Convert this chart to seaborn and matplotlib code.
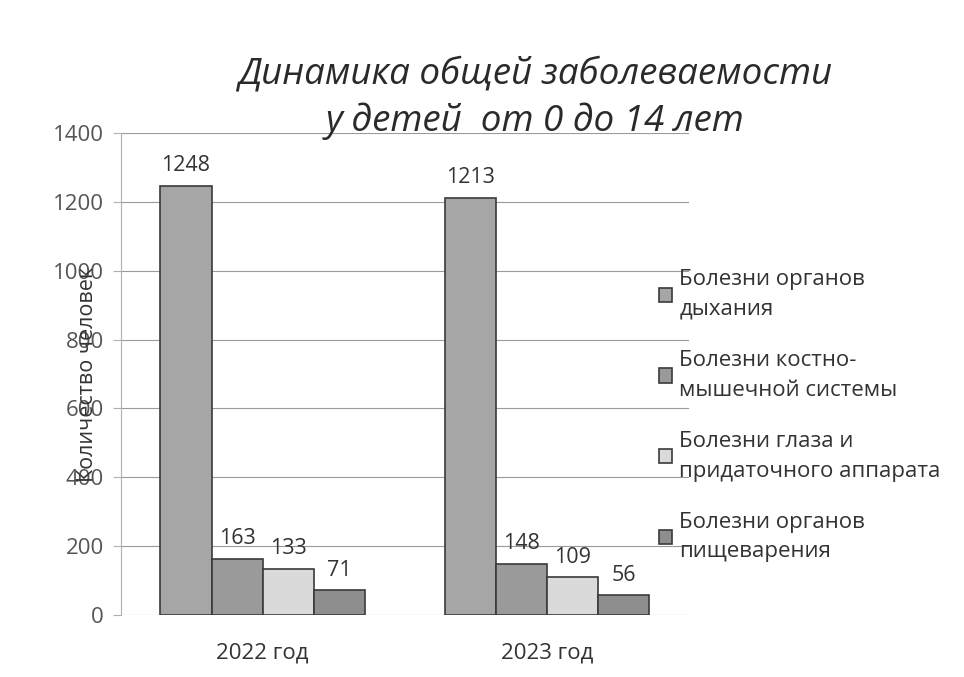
import matplotlib
matplotlib.use("Agg")
import matplotlib.pyplot as plt
import seaborn as sns
import pandas as pd

# data
years = ["2022 год", "2023 год"]
diseases = [
    "Болезни органов\nдыхания",
    "Болезни костно-\nмышечной системы",
    "Болезни глаза и\nпридаточного аппарата",
    "Болезни органов\nпищеварения",
]
values_2022 = [1248, 163, 133, 71]
values_2023 = [1213, 148, 109, 56]
yticks = [0, 200, 400, 600, 800, 1000, 1200, 1400]

df = pd.DataFrame({
    "year": [years[0]] * len(diseases) + [years[1]] * len(diseases),
    "disease": diseases + diseases,
    "count": values_2022 + values_2023,
})

sns.set_style("white")
plt.rcParams["font.family"] = ["Open Sans", "DejaVu Sans"]

colors = ["#a6a6a6", "#9a9a9a", "#dadada", "#8e8e8e"]

fig = plt.figure(figsize=(9.64, 6.77), dpi=100)
ax = fig.add_axes([0.125, 0.092, 0.59, 0.711])

sns.barplot(data=df, x="year", y="count", hue="disease", hue_order=diseases,
            palette=colors, width=0.72, edgecolor="#3a3a3a", linewidth=1.2,
            ax=ax, legend=True)

for c in ax.containers:
    ax.bar_label(c, fmt="%d", padding=7, fontsize=15.5, color="#333333")

ax.set_ylim(0, 1400)
ax.set_yticks(yticks)
ax.set_xlim(-0.5, 1.5)
ax.yaxis.grid(True, color="#9a9a9a", linewidth=0.8)
ax.set_axisbelow(True)
for s in ["top", "right", "bottom"]:
    ax.spines[s].set_visible(False)
ax.spines["left"].set_color("#b0b0b0")
ax.tick_params(axis="y", labelsize=16, labelcolor="#555555", length=6,
               color="#b0b0b0", direction="out", left=True, pad=6)
ax.tick_params(axis="x", labelsize=16, labelcolor="#333333", length=0, pad=20)
ax.set_xlabel("")
# in the original the axis title sits on top of the tick labels
ax.set_ylabel("Количество человек", fontsize=15.5, color="#333333")
ax.yaxis.set_label_coords(-0.04, 0.5)

handles, labels = ax.get_legend_handles_labels()
ax.legend(handles, labels, loc="upper left", bbox_to_anchor=(0.663, 0.632),
          bbox_transform=fig.transFigure, frameon=False, fontsize=16,
          handlelength=0.6, handleheight=0.6, handletextpad=0.3,
          labelspacing=1.35, labelcolor="#333333")
for t in ax.get_legend().get_texts():
    t.set_linespacing(1.55)

fig.text(0.555, 0.855, "Динамика общей заболеваемости\nу детей  от 0 до 14 лет",
         ha="center", va="center", fontsize=26.5, style="italic",
         color="#2a2a2a", linespacing=1.35)

fig.savefig("out.png", dpi=100)
